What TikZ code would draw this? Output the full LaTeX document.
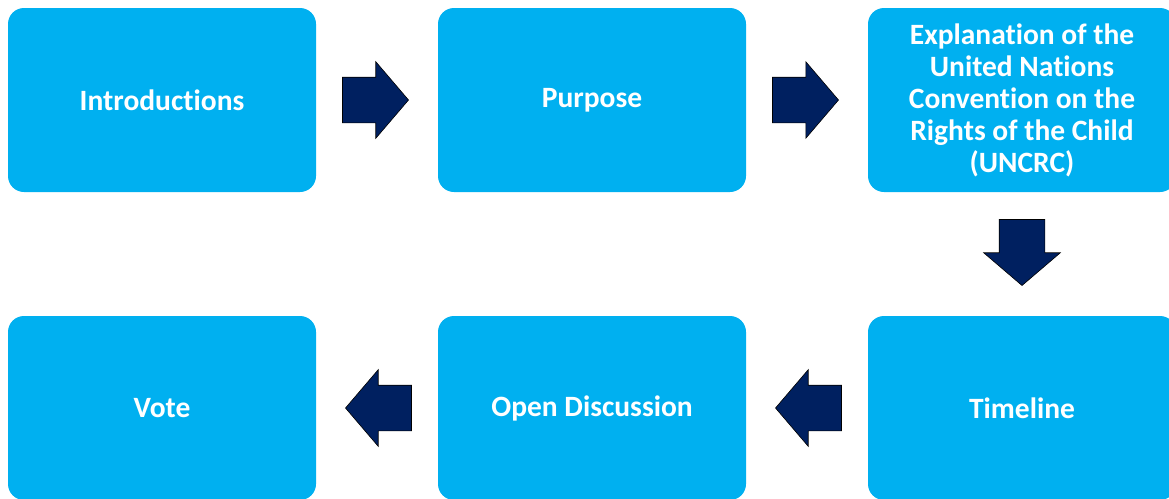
\documentclass[tikz,border=0pt]{standalone}
\usepackage{fontspec}
\setmainfont{Carlito}[Ligatures=NoCommon]
\usetikzlibrary{shapes.arrows,calc}

\definecolor{boxblue}{HTML}{00B0F0}
\definecolor{arrownavy}{HTML}{002060}

\begin{document}
\begin{tikzpicture}[x=1pt,y=-1pt,
  stage/.style={rectangle,rounded corners=16pt,fill=boxblue,minimum width=308pt,
    minimum height=184pt,text=white,align=center,
    font=\fontsize{29.5}{32}\selectfont\bfseries},
  blockarrow/.style={single arrow,fill=arrownavy,draw=black,line width=0.6pt,
    inner xsep=0pt,inner ysep=22.5pt,minimum height=66pt,anchor=tail,
    single arrow head extend=15.5pt,single arrow tip angle=99}]

  % Fix the page size
  \useasboundingbox (0,0) rectangle (1169,498);

  % Draw the stages
  \node[stage] (intro)      at (162,100)  {Introductions};
  \node[stage] (purpose)    at (592,100)  {Purpose};
  \node[stage] (uncrc)      at (1022,100) {Explanation of the\\United Nations\\Convention on the\\Rights of the Child\\(UNCRC)};
  \node[stage] (timeline)   at (1022,408) {Timeline};
  \node[stage] (discussion) at (592,408)  {Open Discussion};
  \node[stage] (vote)       at (162,408)  {Vote};

  % Draw the block arrows, tail 26pt away from the stage they leave
  \node[blockarrow] (a1) at ($(intro.east)+(26,0)$) {};
  \node[blockarrow] (a2) at ($(purpose.east)+(26,0)$) {};
  \node[blockarrow,rotate=270] (a3) at ($(uncrc.south)+(0,27)$) {};
  \node[blockarrow,rotate=180] (a4) at ($(timeline.west)+(-26,0)$) {};
  \node[blockarrow,rotate=180] (a5) at ($(discussion.west)+(-26,0)$) {};

\end{tikzpicture}
\end{document}
